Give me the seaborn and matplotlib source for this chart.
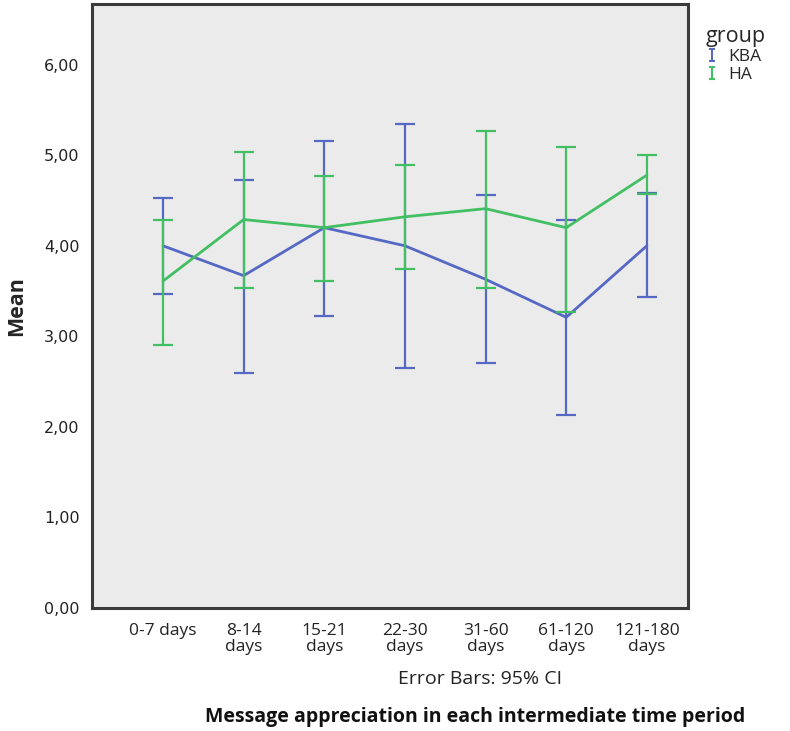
import matplotlib
matplotlib.use("Agg")
import matplotlib.pyplot as plt
from matplotlib.lines import Line2D
from matplotlib.path import Path
import seaborn as sns
import pandas as pd
import numpy as np

periods = ["0-7 days", "8-14\ndays", "15-21\ndays", "22-30\ndays", "31-60\ndays", "61-120\ndays", "121-180\ndays"]
kba_mean = [4.00, 3.67, 4.20, 4.00, 3.63, 3.21, 4.00]
kba_low = [3.47, 2.59, 3.23, 2.65, 2.71, 2.13, 3.43]
kba_high = [4.53, 4.73, 5.16, 5.34, 4.56, 4.28, 4.58]
ha_mean = [3.61, 4.29, 4.20, 4.32, 4.41, 4.20, 4.78]
ha_low = [2.90, 3.53, 3.61, 3.74, 3.53, 3.27, 4.57]
ha_high = [4.29, 5.04, 4.77, 4.89, 5.27, 5.09, 5.00]
y_ticks = [0, 1, 2, 3, 4, 5, 6]
y_tick_labels = ["0,00", "1,00", "2,00", "3,00", "4,00", "5,00", "6,00"]

blue = "#5468c4"
green = "#42bf62"

df = pd.DataFrame({
    "period": periods * 2,
    "mean": kba_mean + ha_mean,
    "low": kba_low + ha_low,
    "high": kba_high + ha_high,
    "group": ["KBA"] * 7 + ["HA"] * 7,
})

sns.set_style("white")
plt.rcParams["font.family"] = ["DejaVu Sans"]

fig = plt.figure(figsize=(7.9, 7.31), dpi=100)
ax = fig.add_axes([92 / 790, 1 - 608 / 731, (688 - 92) / 790, (608 - 4) / 731])
ax.set_facecolor("#ebebeb")

palette = {"KBA": blue, "HA": green}
sns.lineplot(data=df, x="period", y="mean", hue="group", palette=palette,
             hue_order=["KBA", "HA"], linewidth=2.0, errorbar=None, sort=False,
             legend=False, ax=ax)

for g in ["KBA", "HA"]:
    sub = df[df["group"] == g]
    xs = np.arange(len(sub))
    m = sub["mean"].to_numpy()
    err = np.vstack([m - sub["low"].to_numpy(), sub["high"].to_numpy() - m])
    ax.errorbar(xs, m, yerr=err, fmt="none", ecolor=palette[g], elinewidth=1.6,
                capsize=7.5, capthick=1.6, zorder=3 if g == "HA" else 2)

ax.set_xlim(-0.88, 6.51)
ax.set_ylim(0, 6.67)
ax.set_yticks(y_ticks)
ax.set_yticklabels(y_tick_labels, fontsize=11.5, color="#222222")
ax.set_xticks(range(len(periods)))
ax.set_xticklabels(periods, fontsize=12.5, family="Open Sans", linespacing=1.0, color="#222222")
ax.tick_params(axis="both", direction="out", length=7, width=1.5, color="#333333", pad=2)
ax.tick_params(axis="x", pad=4)
for s in ax.spines.values():
    s.set_color("#3a3a3a")
    s.set_linewidth(2.2)

ax.set_xlabel("")
ax.set_ylabel("Mean", fontsize=15.5, fontweight="bold", family="Open Sans", labelpad=12)

fig.text(480 / 790, 1 - 679 / 731, "Error Bars: 95% CI", ha="center", va="center",
         fontsize=14, family="Open Sans", color="#222222")
fig.text(475 / 790, 1 - 717 / 731, "Message appreciation in each intermediate time period",
         ha="center", va="center", fontsize=14, fontweight="bold", family="Open Sans", color="#111111")

ibeam = Path([(-0.5, 1), (0.5, 1), (0, 1), (0, -1), (-0.5, -1), (0.5, -1)],
             [Path.MOVETO, Path.LINETO, Path.MOVETO, Path.LINETO, Path.MOVETO, Path.LINETO])
handles = [Line2D([], [], linestyle="None", marker=ibeam, markersize=8.5, markeredgewidth=1.5,
                  color=blue, markerfacecolor="none"),
           Line2D([], [], linestyle="None", marker=ibeam, markersize=8.5, markeredgewidth=1.5,
                  color=green, markerfacecolor="none")]
leg = ax.legend(handles, ["KBA", "HA"], title="group", loc="upper left",
                bbox_to_anchor=(1.018, 0.975), frameon=False, handlelength=0.7,
                handletextpad=0.6, labelspacing=0.1, borderaxespad=0.0,
                prop={"family": "Open Sans", "size": 12.5},
                title_fontproperties={"family": "Open Sans", "size": 15.5})
leg._legend_box.align = "left"

fig.savefig("out.png", dpi=100, facecolor="white")
